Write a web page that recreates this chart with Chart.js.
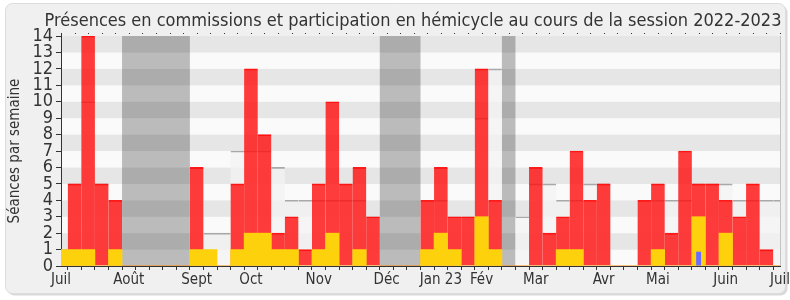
<!DOCTYPE html>
<html lang="fr">
<head>
  <meta charset="UTF-8" />
  <title>Présences et participation 2022-2023</title>
  <script src="https://cdn.jsdelivr.net/npm/chart.js"></script>
  <style>
    html, body { margin: 0; padding: 0; background: #ffffff; }
    #wrap { width: 790px; height: 300px; }
  </style>
</head>
<body>
  <div id="wrap"><canvas id="chart" width="790" height="300"></canvas></div>

  <script>
    // one entry per week, July 2022 -> July 2023
    const semaines = ["Juil", "", "", "", "", "Août", "", "", "", "", "Sept", "", "", "", "Oct", "", "", "", "",
      "Nov", "", "", "", "", "Déc", "", "", "", "Jan 23", "", "", "Fév", "", "", "", "Mar", "", "", "", "",
      "Avr", "", "", "", "Mai", "", "", "", "", "Juin", "", "", "", "Juil"];

    const commissions = [0, 5, 14, 5, 4, 0, 0, 0, 0, 0, 6, 0, 0, 5, 12, 8, 2, 3, 1, 5, 10, 5, 6, 3, 0, 0, 0,
      4, 6, 3, 3, 12, 4, 0, 0, 6, 2, 3, 7, 4, 5, 0, 0, 4, 5, 2, 7, 5, 5, 4, 3, 5, 1, 0];

    const hemicycle = [1, 1, 1, 0, 1, 0, 0, 0, 0, 0, 1, 1, 0, 1, 2, 2, 1, 1, 0, 1, 2, 0, 1, 0, 0, 0, 0,
      1, 2, 1, 0, 3, 1, 0, 0, 0, 0, 1, 1, 0, 0, 0, 0, 0, 1, 0, 0, 3, 0, 2, 0, 0, 0, 0];

    const questions = [0, 0, 0, 0, 0, 0, 0, 0, 0, 0, 0, 0, 0, 0, 0, 0, 0, 0, 0, 0, 0, 0, 0, 0, 0, 0, 0,
      0, 0, 0, 0, 0, 0, 0, 0, 0, 0, 0, 0, 0, 0, 0, 0, 0, 0, 0, 0, 0.87, 0, 0, 0, 0, 0, 0];

    const mediane = [1, 5, 10, 5, 4, 0, 0, 0, 0, 0, 6, 2, 2, 7, 7, 7, 6, 4, 4, 4, 4, 4, 4, 3, 0, 0, 0,
      4, 4, 3, 3, 9, 12, 0, 3, 5, 5, 4, 4, 5, 5, 0, 0, 4, 4, 4, 4, 5, 5, 5, 4, 4, 4, 4];

    const vacances = [0, 0, 0, 0, 0, 14, 14, 14, 14, 14, 0, 0, 0, 0, 0, 0, 0, 0, 0, 0, 0, 0, 0, 0, 14, 14, 14,
      0, 0, 0, 0, 0, 0, 14, 0, 0, 0, 0, 0, 0, 0, 0, 0, 0, 0, 0, 0, 0, 0, 0, 0, 0, 0, 0];

    const FONT = '"DejaVu Sans Condensed", "DejaVu Sans", sans-serif';
    const TITRE = "Présences en commissions et participation en hémicycle au cours de la session 2022-2023";

    // frame, stripes and title
    const decor = {
      id: 'decor',
      beforeDraw(chart) {
        const ctx = chart.ctx;
        ctx.save();
        ctx.fillStyle = '#ffffff';
        ctx.fillRect(0, 0, chart.width, chart.height);
        ctx.beginPath();
        ctx.roundRect(7.5, 5.5, 780, 290, 7);
        ctx.fillStyle = '#d9d9d9';
        ctx.fill();
        ctx.beginPath();
        ctx.roundRect(5.5, 3.5, 780, 290, 7);
        ctx.fillStyle = '#f0f0f0';
        ctx.fill();
        ctx.strokeStyle = '#dddddd';
        ctx.lineWidth = 1;
        ctx.stroke();

        ctx.fillStyle = '#333333';
        ctx.font = '18px ' + FONT;
        ctx.textAlign = 'center';
        ctx.textBaseline = 'alphabetic';
        ctx.fillText(TITRE, 413, 26);
        ctx.restore();
      },
      beforeDatasetsDraw(chart) {
        const { ctx, chartArea: a, scales: { y } } = chart;
        ctx.save();
        for (let v = 0; v < 14; v++) {
          ctx.fillStyle = v % 2 ? '#e6e6e6' : '#fafafa';
          const y0 = y.getPixelForValue(v), y1 = y.getPixelForValue(v + 1);
          ctx.fillRect(a.left + 1, y1, a.right - a.left - 1, y0 - y1);
        }
        ctx.restore();
      },
      afterDatasetsDraw(chart) {
        const { ctx, chartArea: a, scales: { x } } = chart;
        ctx.save();
        ctx.strokeStyle = '#c4c4c4';
        ctx.beginPath();
        ctx.moveTo(a.right + 0.5, a.top);
        ctx.lineTo(a.right + 0.5, a.bottom);
        ctx.stroke();
        ctx.strokeStyle = '#333333';
        ctx.beginPath();
        ctx.moveTo(a.left + 0.5, a.top - 3);
        ctx.lineTo(a.left + 0.5, a.top);
        ctx.stroke();
        ctx.fillStyle = '#333333';
        for (let i = 0; i < semaines.length; i++) {
          ctx.fillRect(Math.round(x.getPixelForValue(i)), a.top - 3, 1, 1);
        }
        ctx.restore();
      }
    };

    const bar = (label, data, color, order, extra) => Object.assign({
      type: 'bar',
      label: label,
      data: data,
      backgroundColor: color,
      borderWidth: 0,
      grouped: false,
      barPercentage: 1,
      categoryPercentage: 1,
      clip: 0,
      order: order
    }, extra || {});

    // filled step area, one step per week (no seams between weeks)
    const zone = (label, data, color, order) => ({
      type: 'line',
      label: label,
      data: data,
      stepped: 'middle',
      fill: 'origin',
      backgroundColor: color,
      borderWidth: 0,
      pointRadius: 0,
      clip: 0,
      order: order
    });

    const topLine = { top: 1, left: 0, right: 0, bottom: 0 };

    new Chart(document.getElementById('chart'), {
      type: 'bar',
      data: {
        labels: semaines,
        datasets: [
          bar('Questions orales', questions, '#6b6bff', 0, { barPercentage: 0.36 }),
          bar('Participation en hémicycle', hemicycle, '#fdd20c', 1),
          bar('Présences en commission', commissions, 'rgba(255, 12, 12, 0.8)', 2, {
            borderColor: '#ff1a1a', borderWidth: topLine, borderSkipped: 'start'
          }),
          bar('Médiane des députés', mediane, 'rgba(0, 0, 0, 0)', 3, {
            borderColor: '#a8a8a8', borderWidth: topLine, borderSkipped: 'start'
          }),
          zone('Médiane (zone)', mediane, 'rgba(243, 243, 243, 0.75)', 4),
          zone('Vacances parlementaires', vacances, 'rgba(0, 0, 0, 0.25)', 5)
        ]
      },
      options: {
        responsive: false,
        animation: false,
        events: [],
        layout: { padding: { top: 36, right: 10, bottom: 6, left: 0 } },
        plugins: { legend: { display: false }, tooltip: { enabled: false }, title: { display: false } },
        scales: {
          x: {
            offset: false,
            grid: { drawOnChartArea: false, tickLength: 4, color: '#333333' },
            border: { color: '#333333' },
            ticks: {
              autoSkip: false, maxRotation: 0, minRotation: 0, padding: 1,
              color: '#333333', font: { family: FONT, size: 15 }
            },
            afterFit(s) { s.height = 28; s.paddingLeft = 0; s.paddingRight = 0; }
          },
          y: {
            min: 0,
            max: 14,
            grid: { drawOnChartArea: false, tickLength: 5, color: '#333333' },
            border: { color: '#333333' },
            ticks: {
              stepSize: 1, autoSkip: false, padding: 3,
              color: '#333333', font: { family: FONT, size: 18 }
            },
            title: {
              display: true, text: 'Séances par semaine', color: '#333333',
              font: { family: FONT, size: 15 }, padding: { top: 6, bottom: 0 }
            },
            afterFit(s) { s.width = 61; }
          }
        }
      },
      plugins: [decor]
    });
  </script>
</body>
</html>
